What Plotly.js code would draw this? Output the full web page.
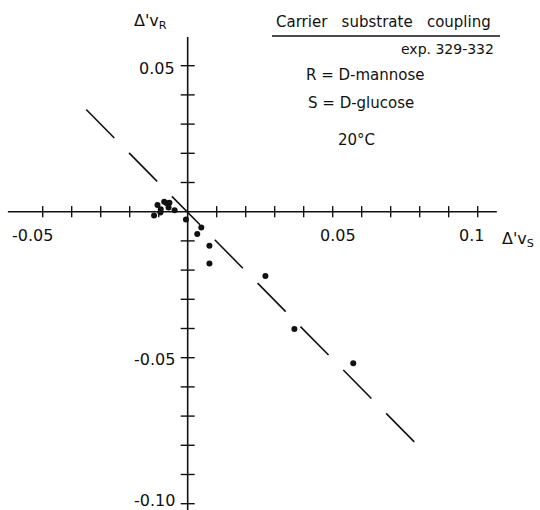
<!DOCTYPE html>
<html><head><meta charset="utf-8">
<script src="https://cdn.plot.ly/plotly-3.0.1.min.js"></script>
<style>html,body{margin:0;padding:0;background:#fff}#chart{width:540px;height:510px}</style>
</head><body><div id="chart"></div>
<script>
// Data
const deltaVS = [-0.0116, -0.0104, -0.0094, -0.0093, -0.0081, -0.0072, -0.0063, -0.0066, -0.0045, -0.0006, 0.0047, 0.0033, 0.0075, 0.0075, 0.0268, 0.0368, 0.0571];
const deltaVR = [-0.0013, 0.0023, -0.0003, 0.0008, 0.0034, 0.0029, 0.0031, 0.0014, 0.0005, -0.0027, -0.0054, -0.0076, -0.0117, -0.0177, -0.0220, -0.0402, -0.0519];
const fitX = [-0.035, 0.079];
const fitY = [0.035, -0.0797];
const xTickValues = [-0.05, -0.04, -0.03, -0.02, -0.01, 0.01, 0.02, 0.03, 0.04, 0.05, 0.06, 0.07, 0.08, 0.09, 0.10];
const yTickValues = [0.05, 0.04, 0.03, 0.02, 0.01, -0.01, -0.02, -0.03, -0.04, -0.05, -0.06, -0.07, -0.08, -0.09, -0.10];
const xLabelValues = [-0.05, 0.05, 0.1];
const xLabelTexts = ["-0.05", "0.05", "0.1"];
const yLabelValues = [0.05, -0.05, -0.10];
const yLabelTexts = ["0.05", "-0.05", "-0.10"];
const xAxisExtent = [-0.062, 0.1066];
const yAxisExtent = [0.0598, -0.103];

const W = 540, H = 510;
const FONT = "DejaVu Sans, Liberation Sans, sans-serif";
const INK = "#111";
const px = v => v / W;
const py = v => 1 - v / H;
const xLabelShift = [-10, 5, -6];
const yLabelShift = [-3, -2, 3];

const traces = [
  {x: xAxisExtent, y: [0, 0], mode: "lines", line: {color: INK, width: 1.6}, hoverinfo: "skip"},
  {x: [0, 0], y: yAxisExtent, mode: "lines", line: {color: INK, width: 1.6}, hoverinfo: "skip"},
  {x: xTickValues, y: xTickValues.map(() => 0), mode: "markers",
   marker: {symbol: "line-ns", size: 8, line: {color: INK, width: 1.4}}, hoverinfo: "skip", cliponaxis: false},
  {x: yTickValues.map(() => 0), y: yTickValues, mode: "markers",
   marker: {symbol: "line-ew", size: 10, line: {color: INK, width: 1.4}}, hoverinfo: "skip", cliponaxis: false},
  {x: fitX, y: fitY, mode: "lines", line: {color: INK, width: 1.6, dash: "40px,21px"}, hoverinfo: "skip"},
  {x: deltaVS, y: deltaVR, mode: "markers", marker: {color: INK, size: 6}, cliponaxis: false}
];

const ann = [];
xLabelValues.forEach((v, i) => ann.push({x: v, y: 0, xref: "x", yref: "y", text: xLabelTexts[i],
  showarrow: false, xanchor: "center", yanchor: "middle", xshift: xLabelShift[i], yshift: -24,
  font: {family: FONT, size: 16, color: INK}}));
yLabelValues.forEach((v, i) => ann.push({x: 0, y: v, xref: "x", yref: "y", text: yLabelTexts[i],
  showarrow: false, xanchor: "right", yanchor: "middle", xshift: -11, yshift: yLabelShift[i],
  font: {family: FONT, size: 16, color: INK}}));
const txt = (x, y, text, size, anchor) => ({xref: "paper", yref: "paper", x: px(x), y: py(y), text: text,
  showarrow: false, xanchor: anchor, yanchor: "middle", font: {family: FONT, size: size, color: INK}});
ann.push(txt(150, 22, "Δ'v<sub>R</sub>", 16, "center"));
ann.push(txt(518, 239, "Δ'v<sub>S</sub>", 16, "center"));
ann.push(txt(383, 22, "Carrier\u00a0\u00a0\u00a0substrate\u00a0\u00a0\u00a0coupling", 15, "center"));
ann.push(txt(496, 49, "exp. 329-332", 14, "right"));
ann.push(txt(304, 75, "R = D-mannose", 15, "left"));
ann.push(txt(306, 103, "S = D-glucose", 15, "left"));
ann.push(txt(336, 140, "20°C", 15, "left"));

const layout = {
  width: W, height: H, autosize: false,
  margin: {l: 0, r: 0, t: 0, b: 0, pad: 0},
  paper_bgcolor: "#fff", plot_bgcolor: "#fff",
  showlegend: false,
  xaxis: {range: [-0.06472, 0.12149], visible: false, fixedrange: true},
  yaxis: {range: [-0.10216, 0.07250], visible: false, fixedrange: true},
  annotations: ann,
  shapes: [{type: "line", xref: "paper", yref: "paper", x0: px(272), x1: px(500), y0: py(36), y1: py(36),
    line: {color: INK, width: 1.5}}]
};
Plotly.newPlot("chart", traces, layout, {displayModeBar: false, staticPlot: true});
</script>
</body></html>
